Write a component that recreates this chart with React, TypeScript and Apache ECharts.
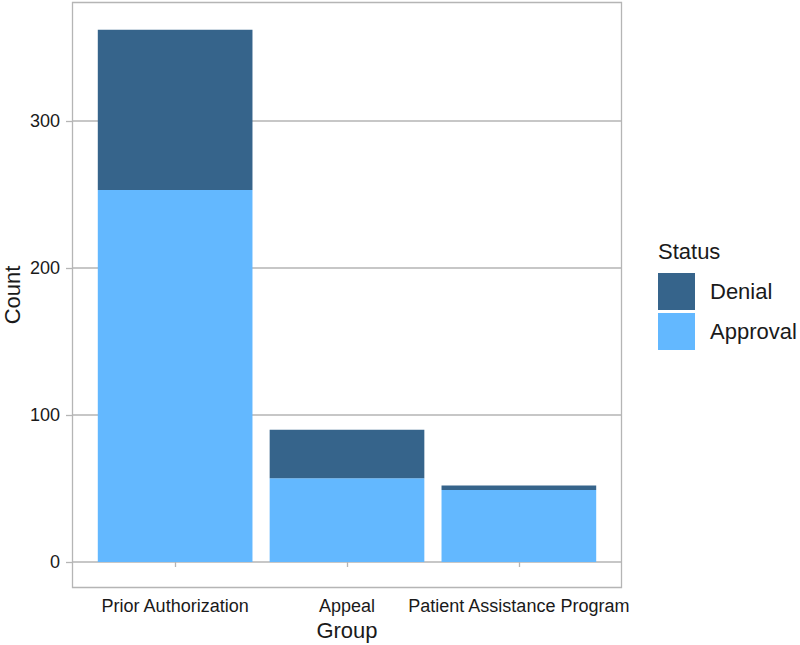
import React, { useEffect, useRef } from "react";
import * as echarts from "echarts";

const categories = ["Prior Authorization", "Appeal", "Patient Assistance Program"];
const approval = [253, 57, 49];
const denial = [109, 33, 3];
const yTickMax = 300;
const legendOrder = ["Denial", "Approval"];

const FONT = "Liberation Sans, Arial, Helvetica, sans-serif";
const GRID_COLOR = "#b5b5b5";
const TEXT = "#1a1a1a";

export default function App() {
  const ref = useRef<HTMLDivElement>(null);
  useEffect(() => {
    if (!ref.current) return;
    const chart = echarts.init(ref.current, null, { renderer: "svg" });
    const pxPerUnit = 1.47;
    const zeroY = 562;
    const panelTop = 2;
    const barMax = (zeroY - panelTop) / pxPerUnit;
    const option: any = {
      animation: false,
      backgroundColor: "#ffffff",
      textStyle: { fontFamily: FONT },
      grid: [
        { left: 72, width: 550, top: zeroY - yTickMax * pxPerUnit, height: yTickMax * pxPerUnit },
        { left: 89.2, width: 515.6, top: panelTop, height: zeroY - panelTop },
      ],
      xAxis: [
        { gridIndex: 0, type: "value", min: 0, max: 1, show: false },
        {
          gridIndex: 1,
          type: "category",
          data: categories,
          offset: 26,
          axisLine: { show: false },
          axisTick: { show: true, length: 5, alignWithLabel: true, lineStyle: { color: GRID_COLOR, width: 1.3 } },
          axisLabel: { fontSize: 18, color: TEXT, margin: 9, fontFamily: FONT, interval: 0 },
          splitLine: { show: false },
        },
      ],
      yAxis: [
        {
          gridIndex: 0,
          type: "value",
          min: 0,
          max: yTickMax,
          interval: 100,
          axisLine: { show: false },
          axisTick: { show: true, length: 6, lineStyle: { color: GRID_COLOR, width: 1.3 } },
          axisLabel: { fontSize: 18, color: TEXT, margin: 12, fontFamily: FONT },
          splitLine: { show: true, lineStyle: { color: GRID_COLOR, width: 1.5 } },
        },
        { gridIndex: 1, type: "value", min: 0, max: barMax, show: false },
      ],
      legend: {
        orient: "vertical",
        left: 658,
        top: 273,
        padding: 0,
        itemWidth: 37,
        itemHeight: 37,
        itemGap: 3,
        icon: "rect",
        data: legendOrder,
        textStyle: { fontSize: 22, color: TEXT, fontFamily: FONT, padding: [0, 0, 0, 10] },
      },
      graphic: [
        {
          type: "rect",
          shape: { x: 72.5, y: 2.5, width: 549, height: 585 },
          style: { fill: "none", stroke: GRID_COLOR, lineWidth: 1.3 },
          z: 10,
        },
        {
          type: "text",
          x: 347,
          y: 630,
          style: { text: "Group", fontSize: 22, fill: TEXT, fontFamily: FONT, textAlign: "center", textVerticalAlign: "middle" },
        },
        {
          type: "text",
          x: 12,
          y: 295,
          rotation: Math.PI / 2,
          style: { text: "Count", fontSize: 22, fill: TEXT, fontFamily: FONT, textAlign: "center", textVerticalAlign: "middle" },
        },
        {
          type: "text",
          x: 658,
          y: 251,
          style: { text: "Status", fontSize: 22, fill: TEXT, fontFamily: FONT, textAlign: "left", textVerticalAlign: "middle" },
        },
      ],
      series: [
        {
          name: "Approval",
          type: "bar",
          stack: "total",
          xAxisIndex: 1,
          yAxisIndex: 1,
          barCategoryGap: "10%",
          data: approval,
          itemStyle: { color: "#63B8FF" },
        },
        {
          name: "Denial",
          type: "bar",
          stack: "total",
          xAxisIndex: 1,
          yAxisIndex: 1,
          barCategoryGap: "10%",
          data: denial,
          itemStyle: { color: "#36648B" },
        },
      ],
    };
    chart.setOption(option);
    return () => chart.dispose();
  }, []);
  return <div ref={ref} style={{ width: 800, height: 645, position: "absolute", left: 0, top: 0 }} />;
}
